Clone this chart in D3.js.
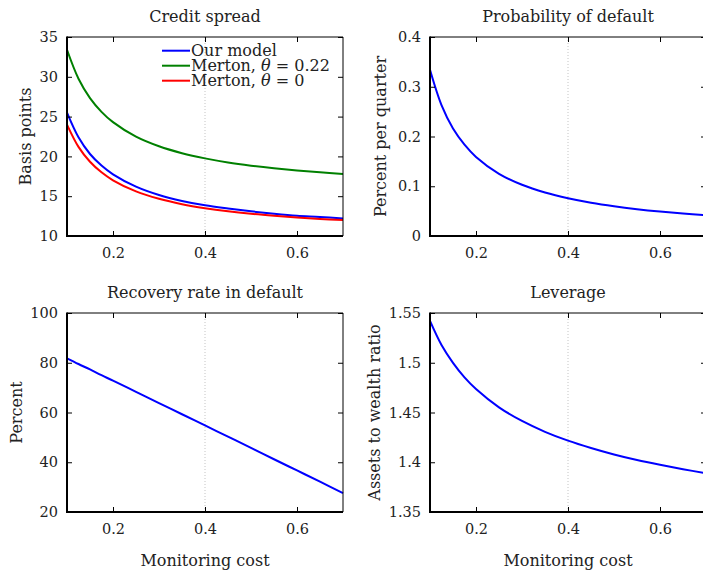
<!DOCTYPE html>
<html>
<head>
<meta charset="utf-8">
<script src="https://cdn.jsdelivr.net/npm/d3@7"></script>
<style>
  html, body { margin: 0; padding: 0; background: #fff; }
  svg { display: block; }
  text { font-family: "DejaVu Serif", "Liberation Serif", serif; fill: #222; }
</style>
</head>
<body>
<svg id="chart" width="703" height="570"></svg>
<script>
// ---------- data ----------
const monitoringCost = [0.1, 0.125, 0.15, 0.175, 0.2, 0.25, 0.3, 0.35, 0.4, 0.45, 0.5, 0.55, 0.6, 0.65, 0.7];

const spreadOurModel   = [25.5, 22.4, 20.3, 18.85, 17.75, 16.2, 15.15, 14.4, 13.85, 13.45, 13.1, 12.8, 12.55, 12.4, 12.2];
const spreadMerton022  = [33.4, 29.76, 27.33, 25.6, 24.3, 22.48, 21.27, 20.4, 19.75, 19.24, 18.84, 18.51, 18.23, 18.0, 17.8];
const spreadMerton0    = [24.0, 21.2, 19.33, 18.0, 17.0, 15.6, 14.67, 14.0, 13.5, 13.11, 12.8, 12.55, 12.33, 12.15, 12.0];

const probDefault      = [0.334, 0.263, 0.216, 0.1835, 0.159, 0.125, 0.103, 0.0874, 0.0758, 0.0668, 0.0597, 0.0539, 0.0491, 0.0451, 0.0416];
const recoveryRate     = [81.8, 79.5, 77.3, 75.0, 72.8, 68.3, 63.8, 59.3, 54.8, 50.3, 45.8, 41.2, 36.7, 32.2, 27.6];
const leverage         = [1.542, 1.5178, 1.4999, 1.4853, 1.4736, 1.4552, 1.4415, 1.4306, 1.4217, 1.4143, 1.4078, 1.4022, 1.3974, 1.393, 1.389];

const xTicks = [0.2, 0.4, 0.6];
const xDomain = [0.1, 0.7];
const refLineX = 0.4;

const legendLabels = ["Our model", "Merton, θ = 0.22", "Merton, θ = 0"];

// ---------- panels ----------
const panels = [
  { title: "Credit spread", ylabel: "Basis points", yDomain: [10, 35], yTicks: [10, 15, 20, 25, 30, 35],
    fmt: d => d, series: [
      { values: spreadOurModel, color: "#0000ff" },
      { values: spreadMerton022, color: "#008000" },
      { values: spreadMerton0, color: "#ff0000" } ],
    left: 67, right: 343, top: 37, bottom: 236, ylabelX: 30.5, legend: true, xlabel: false },
  { title: "Probability of default", ylabel: "Percent per quarter", yDomain: [0, 0.4], yTicks: [0, 0.1, 0.2, 0.3, 0.4],
    fmt: d => d === 0 ? "0" : d3.format(".1f")(d), series: [ { values: probDefault, color: "#0000ff" } ],
    left: 430, right: 706, top: 37, bottom: 236, ylabelX: 385.5, legend: false, xlabel: false },
  { title: "Recovery rate in default", ylabel: "Percent", yDomain: [20, 100], yTicks: [20, 40, 60, 80, 100],
    fmt: d => d, series: [ { values: recoveryRate, color: "#0000ff" } ],
    left: 67, right: 343, top: 313, bottom: 512, ylabelX: 21.5, legend: false, xlabel: true },
  { title: "Leverage", ylabel: "Assets to wealth ratio", yDomain: [1.35, 1.55], yTicks: [1.35, 1.4, 1.45, 1.5, 1.55],
    fmt: d => (Math.round(d * 100) / 100).toString(), series: [ { values: leverage, color: "#0000ff" } ],
    left: 430, right: 706, top: 313, bottom: 512, ylabelX: 379.5, legend: false, xlabel: true }
];

const svg = d3.select("#chart");
const tickFont = 14.5, labelFont = 16;
const fontFam = '"DejaVu Serif", "Liberation Serif", serif';

panels.forEach(p => {
  const x = d3.scaleLinear().domain(xDomain).range([p.left, p.right]);
  const y = d3.scaleLinear().domain(p.yDomain).range([p.bottom, p.top]);
  const g = svg.append("g");

  // reference dotted line
  g.append("line")
    .attr("x1", x(refLineX)).attr("x2", x(refLineX))
    .attr("y1", p.top).attr("y2", p.bottom)
    .attr("stroke", "#c4c4c4").attr("stroke-width", 1).attr("stroke-dasharray", "1,2");

  // curves
  const line = d3.line().x((d, i) => x(monitoringCost[i])).y(d => y(d)).curve(d3.curveCatmullRom.alpha(0.5));
  p.series.forEach(s => {
    g.append("path").datum(s.values)
      .attr("d", line).attr("fill", "none")
      .attr("stroke", s.color).attr("stroke-width", 2);
  });

  // axes
  const ax = (a) => a.tickSizeOuter(0);
  const left = g.append("g").attr("transform", `translate(${p.left},0)`)
    .call(ax(d3.axisLeft(y).tickValues(p.yTicks).tickSize(-5).tickPadding(9).tickFormat(p.fmt)));
  const right = g.append("g").attr("transform", `translate(${p.right},0)`)
    .call(ax(d3.axisRight(y).tickValues(p.yTicks).tickSize(-5).tickFormat("")));
  const bottom = g.append("g").attr("transform", `translate(0,${p.bottom})`)
    .call(ax(d3.axisBottom(x).tickValues(xTicks).tickSize(-5).tickPadding(12).tickFormat(d3.format(".1f"))));
  const top = g.append("g").attr("transform", `translate(0,${p.top})`)
    .call(ax(d3.axisTop(x).tickValues(xTicks).tickSize(-5).tickFormat("")));
  [left, right, bottom, top].forEach(a => {
    a.select(".domain").remove();
    a.selectAll(".tick line").attr("stroke", "#000").attr("stroke-width", 1);
    a.selectAll("text").attr("font-size", tickFont).attr("fill", "#222")
      .attr("font-family", fontFam);
  });

  // box
  g.append("line").attr("x1", p.left).attr("x2", p.right).attr("y1", p.top).attr("y2", p.top)
    .attr("stroke", "#000").attr("stroke-width", 1);
  g.append("line").attr("x1", p.right).attr("x2", p.right).attr("y1", p.top).attr("y2", p.bottom)
    .attr("stroke", "#000").attr("stroke-width", 1);
  g.append("line").attr("x1", p.left).attr("x2", p.right).attr("y1", p.bottom).attr("y2", p.bottom)
    .attr("stroke", "#000").attr("stroke-width", 2);
  g.append("line").attr("x1", p.left).attr("x2", p.left).attr("y1", p.top - 0.5).attr("y2", p.bottom + 1)
    .attr("stroke", "#000").attr("stroke-width", 2);

  // title
  g.append("text").attr("x", (p.left + p.right) / 2).attr("y", p.top - 15)
    .attr("text-anchor", "middle").attr("font-size", labelFont).text(p.title);

  // y label
  g.append("text")
    .attr("transform", `translate(${p.ylabelX},${(p.top + p.bottom) / 2}) rotate(-90)`)
    .attr("text-anchor", "middle").attr("font-size", labelFont).text(p.ylabel);

  // x label
  if (p.xlabel) {
    g.append("text").attr("x", (p.left + p.right) / 2).attr("y", p.bottom + 54)
      .attr("text-anchor", "middle").attr("font-size", labelFont).text("Monitoring cost");
  }

  // legend
  if (p.legend) {
    const lg = g.append("g");
    p.series.forEach((s, i) => {
      const ly = 50.7 + i * 15;
      lg.append("line").attr("x1", 162).attr("x2", 190).attr("y1", ly).attr("y2", ly)
        .attr("stroke", s.color).attr("stroke-width", 2);
      const t = lg.append("text").attr("x", 191).attr("y", ly + 5.5).attr("font-size", labelFont);
      const lab = legendLabels[i];
      const k = lab.indexOf("θ");
      if (k < 0) { t.text(lab); }
      else {
        t.append("tspan").text(lab.slice(0, k));
        t.append("tspan").attr("font-style", "italic").text("θ");
        t.append("tspan").text(lab.slice(k + 1));
      }
    });
  }
});
</script>
</body>
</html>
